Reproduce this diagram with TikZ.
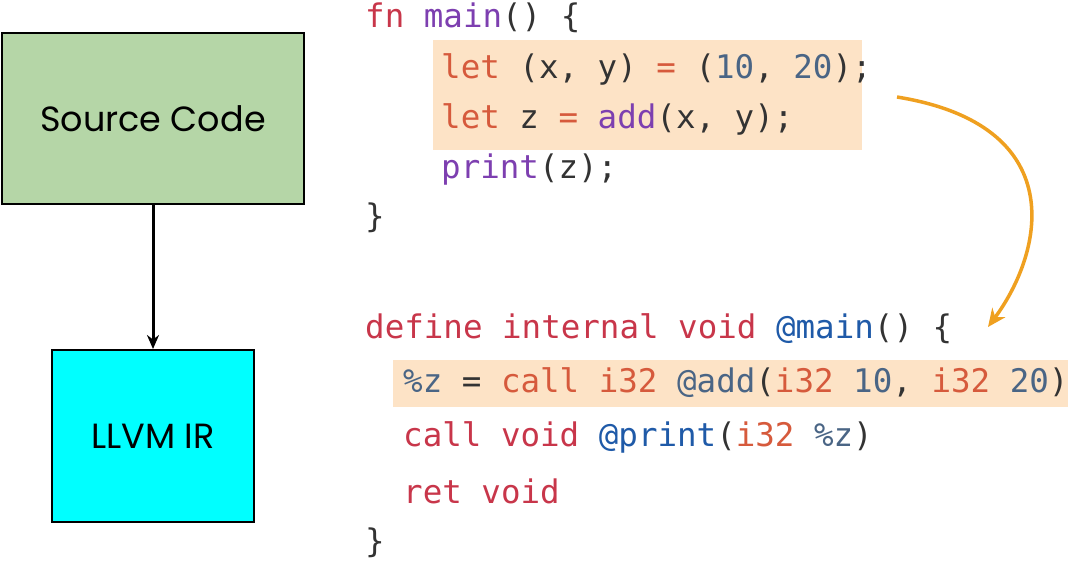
\documentclass[tikz,border=0pt]{standalone}
\usepackage{fontspec}
\usetikzlibrary{arrows.meta}
\setmonofont{DejaVu Sans Mono}
\setsansfont{Poppins}
\definecolor{kw}{HTML}{C8364A}
\definecolor{lt}{HTML}{D65A3C}
\definecolor{fnc}{HTML}{7D3FB0}
\definecolor{num}{HTML}{4A6585}
\definecolor{at}{HTML}{1F5AA8}
\definecolor{hl}{HTML}{FDE3C6}
\definecolor{tx}{HTML}{333333}
\definecolor{arr}{HTML}{EFA020}
\definecolor{green}{HTML}{B5D6A7}
\definecolor{aqua}{HTML}{00FFFF}
\begin{document}
\begin{tikzpicture}[x=1pt,y=-1pt,
  code/.style={anchor=west,inner sep=0pt,font=\ttfamily\fontsize{32.5}{32}\selectfont,text=tx},
  blk/.style={draw=black,line width=2pt,font=\sffamily\fontsize{35}{35}\selectfont}]
\useasboundingbox (0,0) rectangle (1068,563);
\fill[hl] (433,40) rectangle (862,150);
\fill[hl] (393,360) rectangle (1068,407);
\node[blk,fill=green,minimum width=302pt,minimum height=171pt] (src) at (153,118.5) {Source Code};
\node[blk,fill=aqua,minimum width=202pt,minimum height=172pt] (ir) at (153,436) {LLVM IR};
\draw[line width=3pt,-{Stealth[length=14pt,width=12pt]}] (src) -- (ir);
\node[code] (r1) at (365,18) {\textcolor{kw}{fn} \textcolor{fnc}{main}() \{};
\node[code] (r2) at (441,69) {\textcolor{lt}{let} (x, y) \textcolor{lt}{=} (\textcolor{num}{10}, \textcolor{num}{20});};
\node[code] (r3) at (441,119) {\textcolor{lt}{let} z \textcolor{lt}{=} \textcolor{fnc}{add}(x, y);};
\node[code] (r4) at (441,170) {\textcolor{fnc}{print}(z);};
\node[code] (r5) at (365,218) {\}};
\node[code] (l1) at (365,329) {\textcolor{kw}{define internal void} \textcolor{at}{@main}() \{};
\node[code] (l2) at (403,383) {\textcolor{num}{\%z} = \textcolor{lt}{call i32} \textcolor{num}{@add}(\textcolor{lt}{i32} \textcolor{num}{10}, \textcolor{lt}{i32} \textcolor{num}{20})};
\node[code] (l3) at (403,437) {\textcolor{kw}{call void} \textcolor{at}{@print}(\textcolor{lt}{i32} \textcolor{num}{\%z})};
\node[code] (l4) at (403,491) {\textcolor{kw}{ret void}};
\node[code] (l5) at (365,543) {\}};
\coordinate (a1) at (897,97);
\coordinate (a2) at (988,327);
\draw[arr,line width=3.5pt,-{Stealth[length=18pt,width=16pt]}] (a1) .. controls (1070,125) and (1045,250) .. (a2);
\end{tikzpicture}
\end{document}
